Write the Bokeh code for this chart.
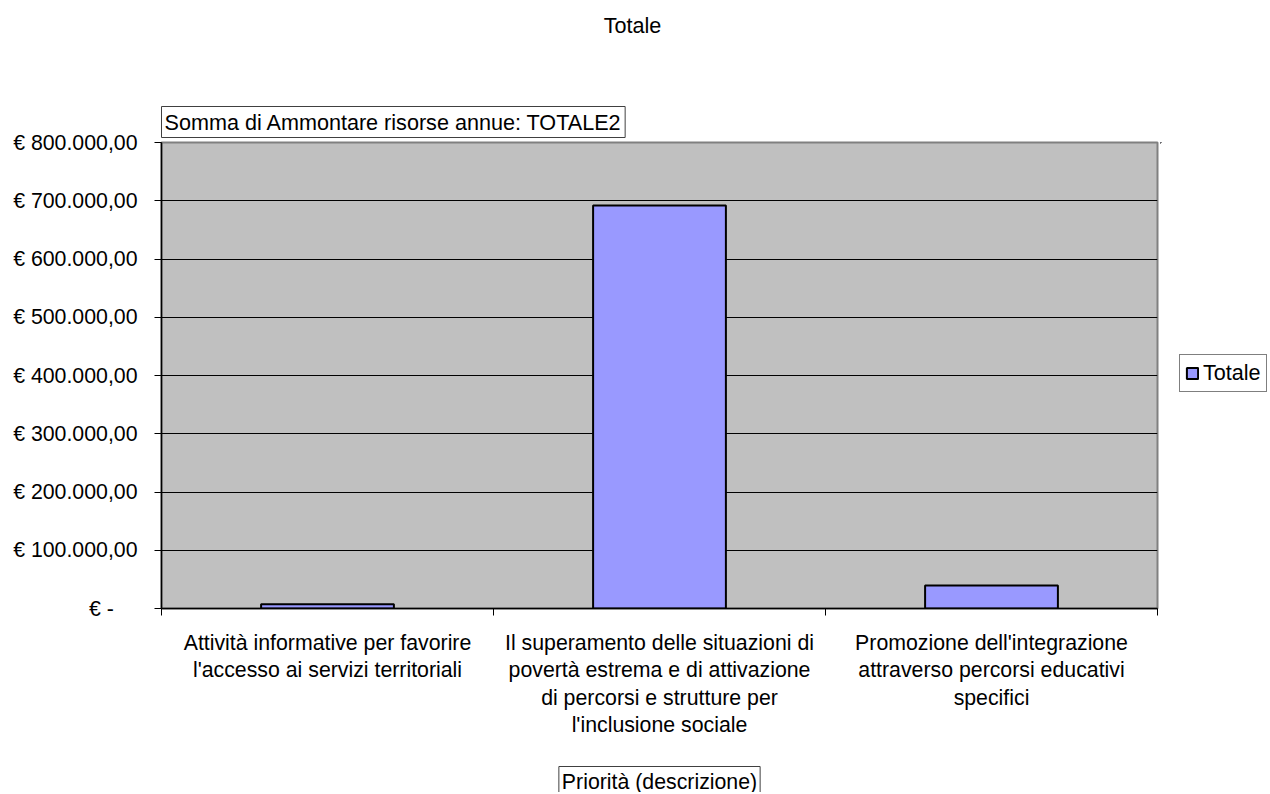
from bokeh.plotting import figure
from bokeh.models import (Range1d, FixedTicker, Title, Label, Legend, LegendItem,
                          ColumnDataSource)
from bokeh.layouts import column, row
from bokeh.embed import file_html
from bokeh.resources import INLINE

# ---------------- data ----------------
chart_title = "Totale"
field_label = "Somma di Ammontare risorse annue: TOTALE2"
axis_title = "Priorità (descrizione)"
series_name = "Totale"

categories = [
    "Attività informative per favorire\nl'accesso ai servizi territoriali",
    "Il superamento delle situazioni di\npovertà estrema e di attivazione\ndi percorsi e strutture per\nl'inclusione sociale",
    "Promozione dell'integrazione\nattraverso percorsi educativi\nspecifici",
]
values = [7500, 692000, 39500]

y_ticks = [0, 100000, 200000, 300000, 400000, 500000, 600000, 700000, 800000]
y_tick_labels = [
    "€ -\u00a0\u00a0\u00a0\u00a0",
    "€ 100.000,00",
    "€ 200.000,00",
    "€ 300.000,00",
    "€ 400.000,00",
    "€ 500.000,00",
    "€ 600.000,00",
    "€ 700.000,00",
    "€ 800.000,00",
]

# ---------------- style ----------------
FONT = "Liberation Sans"
FS = "21.3px"
FS_T = "21.6px"
BAR_FILL = "#9999FF"

n = len(categories)
xs = [i + 0.5 for i in range(n)]
bounds = [i for i in range(n + 1)]


def strip(w, h, xr=(0, 1), yr=(0, 1)):
    f = figure(width=w, height=h, x_range=Range1d(*xr), y_range=Range1d(*yr),
               output_backend="svg", toolbar_location=None,
               x_axis_location=None, y_axis_location=None,
               min_border=0, outline_line_color=None,
               background_fill_color="white", border_fill_color="white")
    f.grid.visible = False
    return f


src = ColumnDataSource(dict(x=xs, top=values, cat=categories))

# ---- top strip: main title ----
p0 = strip(1268, 60)
p0.add_layout(Label(x=632, y=35, x_units="screen", y_units="screen",
                    text=chart_title, text_font=FONT, text_font_size=FS_T,
                    text_align="center", text_baseline="middle",
                    text_color="black"))

# ---- main plot ----
p = figure(width=1160, height=700,
           x_range=Range1d(0, n), y_range=Range1d(y_ticks[0], y_ticks[-1]),
           output_backend="svg", toolbar_location=None,
           min_border_left=161, min_border_right=3,
           min_border_top=82, min_border_bottom=152,
           background_fill_color="#C0C0C0", border_fill_color="white",
           outline_line_color="#808080", outline_line_width=2)

r = p.vbar(x="x", top="top", bottom=0, width=0.4, source=src,
           fill_color=BAR_FILL, line_color="black", line_width=2)

p.xgrid.visible = False
p.ygrid.ticker = FixedTicker(ticks=y_ticks)
p.ygrid.grid_line_color = "black"
p.ygrid.grid_line_width = 1

ya = p.yaxis[0]
ya.ticker = FixedTicker(ticks=y_ticks, minor_ticks=[])
ya.major_label_overrides = {t: l for t, l in zip(y_ticks, y_tick_labels)}
ya.major_tick_out = 7
ya.major_tick_in = 0
ya.major_tick_line_color = "black"
ya.minor_tick_line_color = None
ya.axis_line_color = "black"
ya.axis_line_width = 1.5
ya.major_label_standoff = 17
ya.major_label_text_font = FONT
ya.major_label_text_font_size = FS
ya.major_label_text_color = "black"

xa = p.xaxis[0]
xa.ticker = FixedTicker(ticks=xs, minor_ticks=bounds)
xa.major_label_overrides = {x: c for x, c in zip(xs, categories)}
xa.major_tick_line_color = None
xa.minor_tick_line_color = "black"
xa.minor_tick_out = 7
xa.minor_tick_in = 0
xa.axis_line_color = "black"
xa.axis_line_width = 1.5
xa.major_label_standoff = 15
xa.major_label_text_font = FONT
xa.major_label_text_font_size = FS
xa.major_label_text_color = "black"
xa.major_label_text_align = "center"
xa.major_label_text_line_height = 1.15

p.add_layout(Title(text=field_label, align="left", offset=0, standoff=10,
                   text_font=FONT, text_font_size=FS_T, text_font_style="normal",
                   text_color="black", padding=3,
                   background_fill_color="white",
                   border_line_color="#404040", border_line_width=1), "above")

# ---- right strip: legend (same series, kept out of view) ----
p2 = strip(108, 700, xr=(10, 11), yr=(-2, -1))
r2 = p2.vbar(x="x", top="top", bottom=0, width=0.4, source=src,
             fill_color=BAR_FILL, line_color="black", line_width=2)
legend = Legend(items=[LegendItem(label=series_name, renderers=[r2])],
                location=(19, 216), margin=0, padding=5, spacing=0,
                glyph_width=14, glyph_height=14, label_height=20,
                label_standoff=4, label_text_font=FONT,
                label_text_font_size=FS_T, label_text_color="black",
                border_line_color="black", border_line_width=1,
                background_fill_color="white", background_fill_alpha=1.0)
p2.add_layout(legend)

# ---- bottom strip: axis title ----
p3 = strip(1268, 32)
p3.add_layout(Label(x=659, y=26, x_units="screen", y_units="screen",
                    text=axis_title, text_font=FONT, text_font_size=FS,
                    text_align="center", text_baseline="top",
                    anchor="top_center", padding=3,
                    background_fill_color="white",
                    border_line_color="#404040", border_line_width=1,
                    text_color="black"))

layout = column(p0, row(p, p2, spacing=0), p3, spacing=0)

open("out.html", "w").write(file_html(layout, INLINE))
